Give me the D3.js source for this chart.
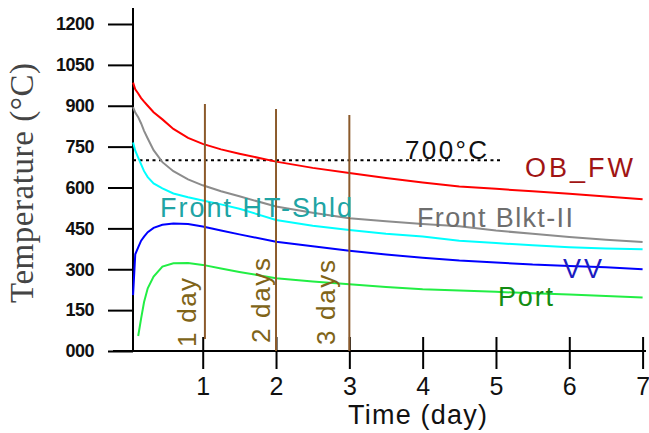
<!DOCTYPE html>
<html>
<head>
<meta charset="utf-8">
<script src="https://cdn.jsdelivr.net/npm/d3@7/dist/d3.min.js"></script>
<style>
  html, body { margin: 0; padding: 0; background: #fff; }
  svg { display: block; }
  text { font-family: "Liberation Sans", Arial, sans-serif; }
</style>
</head>
<body>
<svg id="chart" width="649" height="433"></svg>
<script>
// Sample times (days after shutdown)
const days = [0.05, 0.08, 0.12, 0.16, 0.2, 0.25, 0.33, 0.45, 0.6, 0.8, 1.0, 1.25, 1.5,
              2, 2.5, 3, 3.5, 4, 4.5, 5, 5.5, 6, 6.5, 7];

// Component temperatures (°C) at each sample time
const obFw      = [985, 960, 945, 928, 915, 900, 876, 850, 815, 782, 760, 740, 724,
                   695, 672, 653, 635, 618, 604, 595, 586, 577, 567, 557];
const frontBlkt = [895, 875, 858, 835, 808, 780, 737, 693, 660, 630, 608, 586, 568,
                   530, 507, 487, 476, 466, 458, 442, 430, 418, 408, 400];
const frontHt   = [765, 735, 710, 685, 660, 638, 615, 597, 578, 564, 552, 538, 522,
                   481, 460, 444, 430, 420, 405, 396, 388, 381, 376, 373];
const vv        = [205, 355, 380, 405, 420, 436, 452, 463, 468, 466, 457, 442, 428,
                   401, 384, 368, 354, 342, 332, 325, 317, 312, 307, 300];
const port      = [null, null, 55, 120, 180, 230, 273, 310, 322, 323, 316, 303, 290,
                   267, 255, 245, 235, 227, 222, 217, 212, 207, 202, 196];

const seriesNames = ["OB_FW", "Front Blkt-II", "Front HT-Shld", "VV", "Port"];

// Axis ticks
const yTickValues = [0, 150, 300, 450, 600, 750, 900, 1050, 1200];
const yTickLabels = ["000", "150", "300", "450", "600", "750", "900", "1050", "1200"];
const xTickValues = [1, 2, 3, 4, 5, 6, 7];
const xTickLabels = ["1", "2", "3", "4", "5", "6", "7"];

// Reference temperature and marker days
const limitTemp = 700;
const markerDays = [1.03, 2, 3];
const markerLabels = ["1 day", "2 days", "3 days"];

const svg = d3.select("#chart");
svg.append("rect").attr("width", 649).attr("height", 433).attr("fill", "#fff");

const x = d3.scaleLinear().domain([0, 7]).range([129.4, 642.6]);
const y = d3.scaleLinear().domain([0, 1200]).range([351, 24]);
const axisX = 133;
const baseY = y(0);

// ---- Y axis
const yAxis = d3.axisLeft(y)
  .tickValues(yTickValues)
  .tickFormat((d, i) => yTickLabels[i])
  .tickSize(25)
  .tickPadding(14);
const gy = svg.append("g").attr("transform", `translate(${axisX},0)`).call(yAxis);
gy.select(".domain").remove();
gy.selectAll(".tick line").attr("stroke", "#000").attr("stroke-width", 2);
gy.selectAll(".tick text")
  .attr("fill", "#111")
  .style("font-size", "18px")
  .style("font-weight", "bold")
  .style("letter-spacing", "-0.5px")
  .style("font-family", "'Liberation Sans', Arial, sans-serif");
svg.append("line")
  .attr("x1", axisX).attr("x2", axisX)
  .attr("y1", 8).attr("y2", baseY + 1)
  .attr("stroke", "#000").attr("stroke-width", 2);

// ---- X axis
const xAxis = d3.axisBottom(x)
  .tickValues(xTickValues)
  .tickFormat((d, i) => xTickLabels[i])
  .tickSize(18)
  .tickPadding(0);
const gx = svg.append("g").attr("transform", `translate(0,${baseY})`).call(xAxis);
gx.select(".domain").remove();
gx.selectAll(".tick line").attr("y1", -14).attr("y2", 18)
  .attr("stroke", "#000").attr("stroke-width", 2);
gx.selectAll(".tick text")
  .attr("y", 44).attr("dy", 0)
  .attr("fill", "#111")
  .style("font-size", "25px")
  .style("font-family", "'Liberation Sans', Arial, sans-serif");
svg.append("line")
  .attr("x1", 113).attr("x2", 646)
  .attr("y1", baseY).attr("y2", baseY)
  .attr("stroke", "#000").attr("stroke-width", 2);

// ---- Axis titles
svg.append("text")
  .attr("transform", `translate(33,183) rotate(-90)`)
  .attr("text-anchor", "middle")
  .attr("textLength", 240)
  .attr("fill", "#444")
  .style("font-family", "'Liberation Serif', 'Times New Roman', serif")
  .style("font-size", "33px")
  .text("Temperature (°C)");

svg.append("text")
  .attr("x", 348).attr("y", 424)
  .attr("textLength", 139)
  .attr("fill", "#111")
  .style("font-size", "27px")
  .text("Time (day)");

// ---- 700 °C reference line
svg.append("line")
  .attr("x1", axisX).attr("x2", 502)
  .attr("y1", y(limitTemp)).attr("y2", y(limitTemp))
  .attr("stroke", "#000").attr("stroke-width", 2)
  .attr("stroke-dasharray", "3,3.5");
svg.append("text")
  .attr("x", 405).attr("y", y(limitTemp) - 1)
  .attr("textLength", 82)
  .attr("fill", "#111")
  .style("font-size", "26px")
  .text(limitTemp + "°C");

// ---- Temperature curves
const series = [
  { name: seriesNames[0], values: obFw,      color: "#ff0000" },
  { name: seriesNames[1], values: frontBlkt, color: "#8c8c8c" },
  { name: seriesNames[2], values: frontHt,   color: "#00ffff" },
  { name: seriesNames[3], values: vv,        color: "#0000ff" },
  { name: seriesNames[4], values: port,      color: "#22ee44" }
];

const line = d3.line()
  .defined(d => d[1] != null)
  .x(d => x(d[0]))
  .y(d => y(d[1]));

svg.append("g").selectAll("path")
  .data(series)
  .join("path")
  .attr("d", s => line(days.map((t, i) => [t, s.values[i]])))
  .attr("fill", "none")
  .attr("stroke", s => s.color)
  .attr("stroke-width", 2);

// ---- Day markers
const markerTops = [104, 109, 115];
const markerBottoms = [339, baseY, baseY];
svg.append("g").selectAll("line")
  .data(markerDays)
  .join("line")
  .attr("x1", (d, i) => x(d)).attr("x2", (d, i) => x(d))
  .attr("y1", (d, i) => markerTops[i])
  .attr("y2", (d, i) => markerBottoms[i])
  .attr("stroke", "#8b5a2b").attr("stroke-width", 2);

const markerLabelPos = [[196, 347, 69], [270, 343, 85], [335, 345, 85]];
svg.append("g").selectAll("text")
  .data(markerLabels)
  .join("text")
  .attr("transform", (d, i) => `translate(${markerLabelPos[i][0]},${markerLabelPos[i][1]}) rotate(-90)`)
  .attr("textLength", (d, i) => markerLabelPos[i][2])
  .attr("fill", "#806418")
  .style("font-size", "26px")
  .text(d => d);

// ---- Series labels
const labelSpecs = [
  { text: seriesNames[0], x: 525, y: 177, len: 108, color: "#a01414" },
  { text: seriesNames[2], x: 160, y: 217, len: 192, color: "#20a4a4" },
  { text: seriesNames[1], x: 417, y: 227, len: 156, color: "#6e6e6e" },
  { text: seriesNames[3], x: 563, y: 278, len: 39,  color: "#1c1cc0" },
  { text: seriesNames[4], x: 498, y: 306, len: 55,  color: "#138c13" }
];
svg.append("g").selectAll("text")
  .data(labelSpecs)
  .join("text")
  .attr("x", d => d.x).attr("y", d => d.y)
  .attr("textLength", d => d.len)
  .attr("fill", d => d.color)
  .style("font-size", "27px")
  .text(d => d.text);
</script>
</body>
</html>
